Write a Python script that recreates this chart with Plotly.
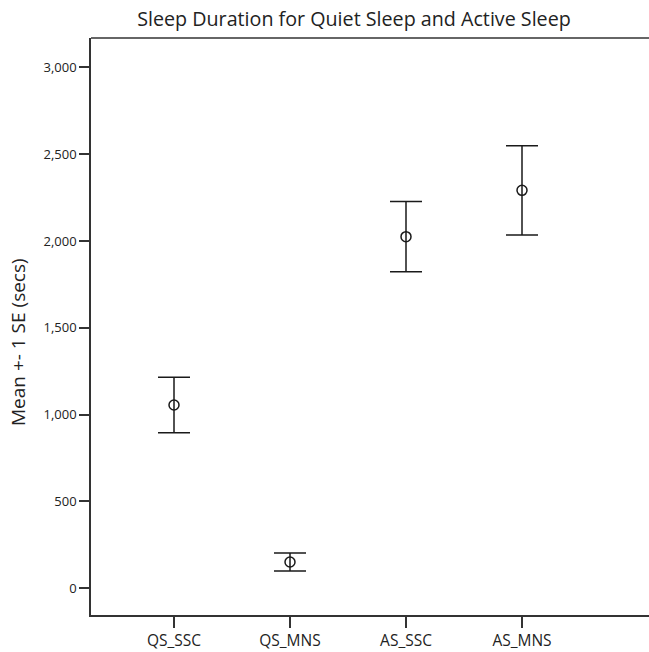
import plotly.graph_objects as go

categories = ["QS_SSC", "QS_MNS", "AS_SSC", "AS_MNS"]
means = [1055, 150, 2025, 2292]
se_values = [160, 52, 202, 257]
y_tick_values = [0, 500, 1000, 1500, 2000, 2500, 3000]
y_tick_labels = ["0", "500", "1,000", "1,500", "2,000", "2,500", "3,000"]

W, H = 649, 652
L, R, T, B = 91, 0, 38, 37
pw = W - L - R
ph = H - T - B

fig = go.Figure()
fig.add_trace(go.Scatter(
    x=list(range(len(categories))),
    y=means,
    mode="markers",
    marker=dict(symbol="circle-open", size=10, color="#1a1a1a", line=dict(width=1.5, color="#1a1a1a")),
    error_y=dict(type="data", array=se_values, visible=True, color="#1a1a1a", thickness=1.5, width=16),
    showlegend=False,
    hoverinfo="skip",
))

fig.update_layout(
    width=W, height=H,
    margin=dict(l=L, r=R, t=T, b=B, pad=0),
    paper_bgcolor="white", plot_bgcolor="white",
    font=dict(family="Open Sans, Lato, sans-serif", color="#222"),
    title=dict(text="Sleep Duration for Quiet Sleep and Active Sleep", x=354 / W, xanchor="center",
               y=1 - 19 / H, yanchor="middle", font=dict(size=19.7, color="#222")),
    xaxis=dict(
        range=[(L - 174) / 116, (W - 174) / 116],
        tickmode="array", tickvals=list(range(len(categories))), ticktext=categories,
        showgrid=False, zeroline=False, showline=True, linecolor="#333", linewidth=1.5,
        ticks="outside", ticklen=11, tickwidth=1.5, tickcolor="#333",
        tickfont=dict(size=15.5, color="#222"), mirror=False,
    ),
    yaxis=dict(
        range=[-27 / (521 / 3000), 550.5 / (521 / 3000)],
        tickmode="array", tickvals=y_tick_values, ticktext=y_tick_labels,
        showgrid=False, zeroline=False, showline=True, linecolor="#333", linewidth=1.5,
        ticks="outside", ticklen=10, tickwidth=1.5, tickcolor="#333",
        tickfont=dict(size=13, color="#222"),
    ),
    shapes=[dict(type="line", xref="paper", yref="paper", x0=0, x1=1, y0=1, y1=1,
                 line=dict(color="#333", width=1.5))],
    annotations=[dict(text="Mean +- 1 SE (secs)", xref="paper", yref="paper",
                      x=(18 - L) / pw, y=(615 - 342) / ph, textangle=-90, showarrow=False,
                      xanchor="center", yanchor="middle", font=dict(size=19, color="#222"))],
)

fig.write_html("out.html", config={"displayModeBar": False},
               post_script="document.body.style.margin='0';document.body.style.overflow='hidden';")
